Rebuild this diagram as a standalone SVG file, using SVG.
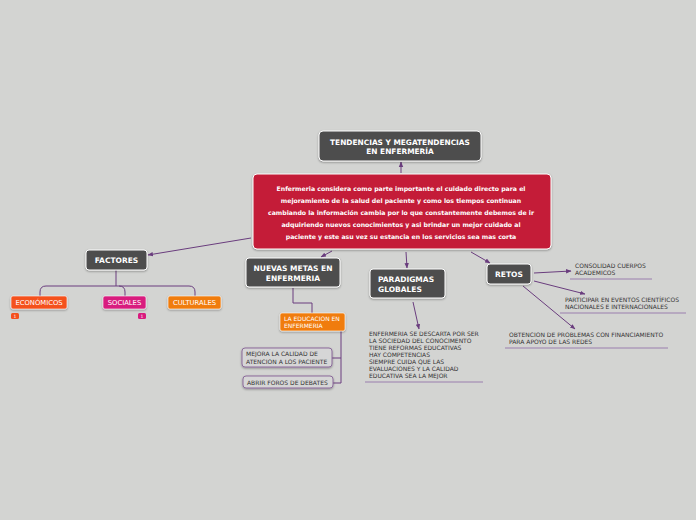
<svg xmlns="http://www.w3.org/2000/svg" width="696" height="520" viewBox="0 0 696 520">
<defs>
<marker id="arr" viewBox="0 0 10 10" refX="9" refY="5" markerWidth="5.5" markerHeight="5.5" orient="auto"><path d="M0,1 L10,5 L0,9 z" fill="#6a3d7e"/></marker>
<filter id="sh" x="-10%" y="-10%" width="120%" height="140%"><feDropShadow dx="0" dy="1" stdDeviation="0.8" flood-color="#000" flood-opacity="0.35"/></filter>
</defs>
<style>
.dark{fill:#4d4d4d;stroke:#ffffff;stroke-width:1;filter:url(#sh)}
.tw{font-family:"DejaVu Sans",Verdana,sans-serif;font-weight:bold;fill:#ffffff}
.con{fill:none;stroke:#6a3d7e;stroke-width:1}
.sub{fill:#ffffff;font-family:"DejaVu Sans",Verdana,sans-serif}
.note{font-family:"DejaVu Sans",Verdana,sans-serif;font-size:6px;fill:#333333}
.ul{stroke:#9a7fae;stroke-width:1}
.lite{fill:#d6d6d6;stroke:#8b6b9b;stroke-width:1;filter:url(#sh)}
</style>
<rect width="696" height="520" fill="#d3d4d2"/>
<g id="connectors">
<path class="con" d="M401,173 L401,162" marker-end="url(#arr)"/>
<path class="con" d="M251,238 L148,255" marker-end="url(#arr)"/>
<path class="con" d="M116,270 L116,286 M40,296 L40,292 Q40,286 46,286 L189,286 Q195,286 195,292 L195,296 M125,296 L125,292 Q125,286 119,286"/>
<path class="con" d="M332,251 L321,257" marker-end="url(#arr)"/>
<path class="con" d="M293,288 L293,303 L312,303 L312,313"/>
<path class="con" d="M341,331 L341,383 L333,383 M341,358 L332,358"/>
<path class="con" d="M406,252 L407,268" marker-end="url(#arr)"/>
<path class="con" d="M413,302 L419,329" marker-end="url(#arr)"/>
<path class="con" d="M471,252 L490,263" marker-end="url(#arr)"/>
<path class="con" d="M534,273 L571,271" marker-end="url(#arr)"/>
<path class="con" d="M534,281 L585,294" marker-end="url(#arr)"/>
<path class="con" d="M523,286 L575,329" marker-end="url(#arr)"/>
</g>
<g id="title">
<rect class="dark" x="319" y="131" width="162" height="30" rx="4"/>
<text class="tw" font-size="7.4" x="400" y="145" text-anchor="middle">TENDENCIAS Y MEGATENDENCIAS</text>
<text class="tw" font-size="7.4" x="400" y="154" text-anchor="middle">EN ENFERMERÍA</text>
</g>
<g id="main">
<rect x="253" y="174" width="298" height="75" rx="4" fill="#c41e37" stroke="#ffffff" stroke-width="1" filter="url(#sh)"/>
<g class="tw" font-size="6.2" text-anchor="middle">
<text x="401" y="191">Enfermeria considera como parte importante el cuidado directo para el</text>
<text x="401" y="203">mejoramiento de la salud del paciente y como los tiempos continuan</text>
<text x="401" y="215">cambiando la información cambia por lo que constantemente debemos de ir</text>
<text x="401" y="227">adquiriendo nuevos conocimientos y asi brindar un mejor cuidado al</text>
<text x="401" y="239">paciente y este asu vez su estancia en los servicios sea mas corta</text>
</g>
</g>
<g id="factores">
<rect class="dark" x="86" y="250" width="61" height="20" rx="3"/>
<text class="tw" font-size="7.5" x="116.5" y="263" text-anchor="middle">FACTORES</text>
</g>
<g id="economicos">
<rect x="11" y="296" width="56" height="13" rx="2" fill="#f4511e" stroke="#ffffff" stroke-width="0.6" filter="url(#sh)"/>
<text class="sub" font-size="6.8" x="39" y="305.2" text-anchor="middle">ECONÓMICOS</text>
<rect x="11" y="313" width="8" height="6" rx="1.5" fill="#f4511e"/>
<text class="sub" font-size="4.5" x="15" y="318" text-anchor="middle">1</text>
</g>
<g id="sociales">
<rect x="103" y="296" width="43" height="13" rx="2" fill="#d81b7e" stroke="#ffffff" stroke-width="0.6" filter="url(#sh)"/>
<text class="sub" font-size="6.8" x="124.5" y="305.2" text-anchor="middle">SOCIALES</text>
<rect x="138" y="313" width="8" height="6" rx="1.5" fill="#d81b7e"/>
<text class="sub" font-size="4.5" x="142" y="318" text-anchor="middle">1</text>
</g>
<g id="culturales">
<rect x="168" y="296" width="53" height="13" rx="2" fill="#f07c0e" stroke="#ffffff" stroke-width="0.6" filter="url(#sh)"/>
<text class="sub" font-size="6.8" x="194.5" y="305.2" text-anchor="middle">CULTURALES</text>
</g>
<g id="nuevas">
<rect class="dark" x="246" y="258" width="94" height="29" rx="3"/>
<text class="tw" font-size="7.5" x="293" y="271" text-anchor="middle">NUEVAS METAS EN</text>
<text class="tw" font-size="7.5" x="293" y="280.5" text-anchor="middle">ENFERMERIA</text>
</g>
<g id="educacion">
<rect x="280" y="313" width="65" height="18" rx="2" fill="#f07c0e" stroke="#ffffff" stroke-width="0.6" filter="url(#sh)"/>
<text class="sub" font-size="6" x="284" y="321">LA EDUCACION EN</text>
<text class="sub" font-size="6" x="284" y="328">ENFERMERIA</text>
</g>
<g id="mejora">
<rect class="lite" x="242" y="348" width="90" height="19" rx="3"/>
<text class="note" x="246" y="356">MEJORA LA CALIDAD DE</text>
<text class="note" x="246" y="363.5">ATENCION A LOS PACIENTE</text>
</g>
<g id="abrir">
<rect class="lite" x="243" y="376" width="90" height="12" rx="3"/>
<text class="note" x="247" y="384.5">ABRIR FOROS DE DEBATES</text>
</g>
<g id="paradigmas">
<rect class="dark" x="370" y="269" width="75" height="29" rx="3"/>
<text class="tw" font-size="7.5" x="378" y="282">PARADIGMAS</text>
<text class="tw" font-size="7.5" x="378" y="291.5">GLOBALES</text>
</g>
<g id="paradigmas-nota">
<text class="note" x="369" y="336">ENFERMERIA SE DESCARTA POR SER</text>
<text class="note" x="369" y="343">LA SOCIEDAD DEL CONOCIMENTO</text>
<text class="note" x="369" y="350">TIENE REFORMAS EDUCATIVAS</text>
<text class="note" x="369" y="357">HAY COMPETENCIAS</text>
<text class="note" x="369" y="364">SIEMPRE CUIDA QUE LAS</text>
<text class="note" x="369" y="371">EVALUACIONES Y LA CALIDAD</text>
<text class="note" x="369" y="378">EDUCATIVA SEA LA MEJOR</text>
<line class="ul" x1="365" y1="382" x2="483" y2="382"/>
</g>
<g id="retos">
<rect class="dark" x="487" y="264" width="44" height="20" rx="3"/>
<text class="tw" font-size="7.5" x="509" y="277" text-anchor="middle">RETOS</text>
</g>
<g id="consolidad">
<text class="note" x="575" y="268">CONSOLIDAD CUERPOS</text>
<text class="note" x="575" y="275">ACADEMICOS</text>
<line class="ul" x1="570" y1="279" x2="652" y2="279"/>
</g>
<g id="participar">
<text class="note" x="565" y="302">PARTICIPAR EN EVENTOS CIENTÍFICOS</text>
<text class="note" x="565" y="309">NACIONALES E INTERNACIONALES</text>
<line class="ul" x1="560" y1="313" x2="686" y2="313"/>
</g>
<g id="obtencion">
<text class="note" x="509" y="337">OBTENCION DE PROBLEMAS CON FINANCIAMIENTO</text>
<text class="note" x="509" y="344">PARA APOYO DE LAS REDES</text>
<line class="ul" x1="505" y1="348" x2="668" y2="348"/>
</g>
</svg>
